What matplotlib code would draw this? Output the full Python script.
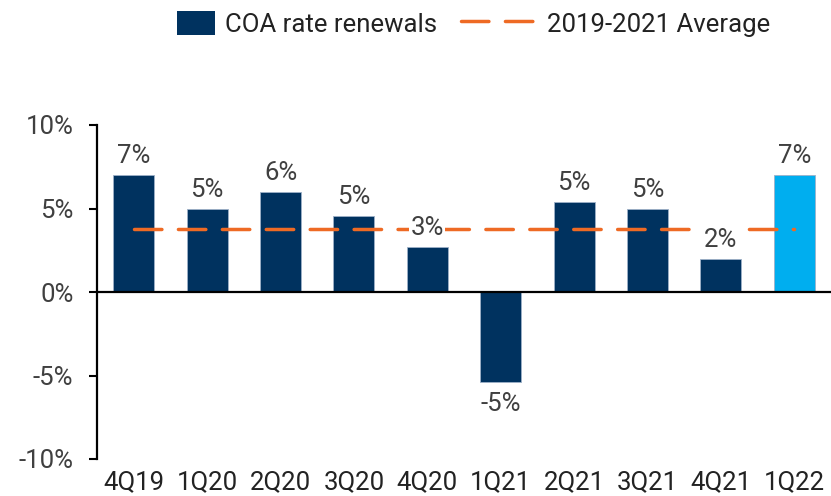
import matplotlib
matplotlib.use("Agg")
import matplotlib.pyplot as plt
from matplotlib.lines import Line2D
from matplotlib.patches import Patch, Rectangle
from matplotlib.legend_handler import HandlerPatch

# data
quarters = ["4Q19", "1Q20", "2Q20", "3Q20", "4Q20", "1Q21", "2Q21", "3Q21", "4Q21", "1Q22"]
renewals = [7.0, 5.0, 6.0, 4.55, 2.7, -5.4, 5.4, 5.0, 2.0, 7.0]
labels = ["7%", "5%", "6%", "5%", "3%", "-5%", "5%", "5%", "2%", "7%"]
average = 3.8
y_ticks = [-10, -5, 0, 5, 10]

navy = "#00325F"
sky = "#00AEEF"
orange = "#EE6A24"
grey = "#404040"

plt.rcParams["font.family"] = ["Roboto", "DejaVu Sans"]
fs = 18.5

fig = plt.figure(figsize=(8.31, 4.96), dpi=100)
ax = fig.add_axes([97 / 831, 37 / 496, 734 / 831, 334 / 496])

x = list(range(len(quarters)))
colors = [navy] * (len(quarters) - 1) + [sky]
ax.bar(x, renewals, width=0.56, color=colors, edgecolor="#9DB0C8",
       linewidth=0.6, zorder=2)

ax.plot([x[0], x[-1]], [average, average], color=orange, lw=2.5,
        dashes=(7.9, 4.75), dash_capstyle="round", zorder=3)

for xi, v, lab in zip(x, renewals, labels):
    if v >= 0:
        ax.annotate(lab, (xi, v), xytext=(0, 5), textcoords="offset points",
                    ha="center", va="bottom", fontsize=fs, color=grey, zorder=4,
                    bbox=dict(boxstyle="square,pad=0.05", fc="white", ec="none"))
    else:
        ax.annotate(lab, (xi, v), xytext=(0, -7), textcoords="offset points",
                    ha="center", va="top", fontsize=fs, color=grey, zorder=4)

ax.axhline(0, color="black", lw=1.6, zorder=3)
ax.set_xlim(-0.5, 9.5)
ax.set_ylim(-10, 10)
ax.set_yticks(y_ticks)
ax.set_yticklabels([f"{t}%" for t in y_ticks])
ax.set_xticks(x)
ax.set_xticklabels(quarters)
ax.tick_params(axis="y", direction="out", length=6, width=1.5, pad=11,
               labelsize=fs, labelcolor=grey)
ax.tick_params(axis="x", length=0, pad=8, labelsize=fs, labelcolor="#222222")
for s in ["top", "right", "bottom"]:
    ax.spines[s].set_visible(False)
ax.spines["left"].set_linewidth(1.6)


# narrow box drawn at the right end of the wide handle slot
def box_handle(legend, orig_handle, xdescent, ydescent, width, height, fontsize):
    w = 27.4
    return Rectangle((-xdescent + width - w, -ydescent), w, height)


handles = [
    Patch(facecolor=navy),
    Line2D([], [], color=orange, lw=2.5, dashes=(7.9, 4.75), dash_capstyle="round"),
]
fig.legend(handles, ["COA rate renewals", "2019-2021 Average"], loc="center",
           bbox_to_anchor=(0.5475, 0.952), ncol=2, frameon=False, fontsize=fs,
           handlelength=2.96, handleheight=1.05, handletextpad=0.39,
           columnspacing=0.93, labelcolor="#222222",
           handler_map={Patch: HandlerPatch(patch_func=box_handle)})

fig.savefig("out.png", dpi=100)
